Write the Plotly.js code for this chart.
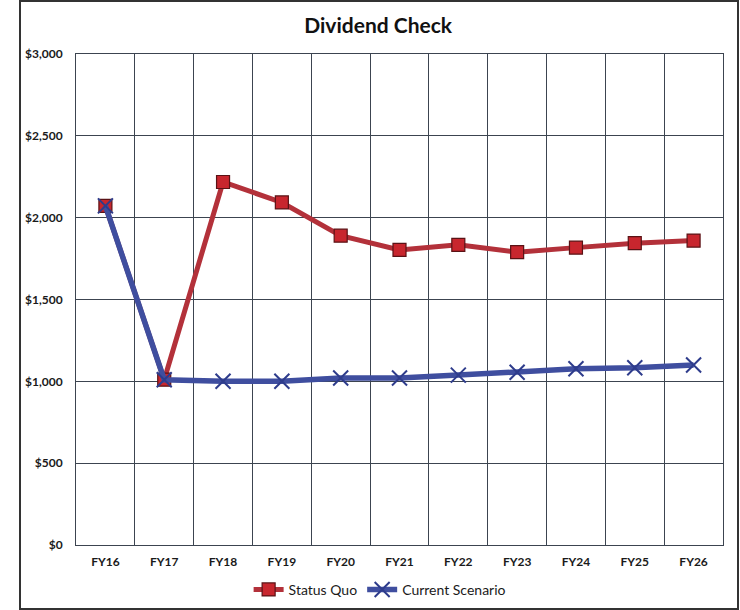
<!DOCTYPE html>
<html>
<head>
<meta charset="utf-8">
<script src="https://cdn.plot.ly/plotly-3.0.1.min.js"></script>
<style>
  html, body { margin: 0; padding: 0; background: #fff; }
  #wrap { position: relative; width: 740px; height: 610px; }
  #chart { position: absolute; left: 0; top: 0; width: 740px; height: 610px; }
  #frame { position: absolute; left: 19px; top: 0px; width: 716px; height: 606px;
           border: 2px solid #333; pointer-events: none; }
</style>
</head>
<body>
<div id="wrap">
  <div id="chart"></div>
  <div id="frame"></div>
</div>
<script>
const years = ["FY16","FY17","FY18","FY19","FY20","FY21","FY22","FY23","FY24","FY25","FY26"];
const statusQuo = [2072, 1010, 2218, 2093, 1890, 1803, 1834, 1789, 1817, 1844, 1860];
const currentScenario = [2072, 1010, 1000, 1000, 1020, 1020, 1038, 1055, 1077, 1083, 1100];
const yTickVals = [0, 500, 1000, 1500, 2000, 2500, 3000];
const yTickText = ["$0", "$500", "$1,000", "$1,500", "$2,000", "$2,500", "$3,000"];

const FONT = "Lato, 'Open Sans', 'DejaVu Sans', sans-serif";

const traces = [
  {
    x: years, y: statusQuo, name: "Status Quo", type: "scatter", mode: "lines+markers",
    line: { color: "#B3313A", width: 5 },
    marker: { symbol: "square", size: 13, color: "#C8262E", line: { color: "#5a1215", width: 1.2 } }
  },
  {
    x: years, y: currentScenario, name: "Current Scenario", type: "scatter", mode: "lines+markers",
    line: { color: "#3F4E9F", width: 5.5 },
    marker: { symbol: "x-thin", size: 15, color: "#2E3C8C", line: { color: "#2E3C8C", width: 2 } }
  }
];

const layout = {
  width: 740, height: 610,
  margin: { l: 76, r: 17, t: 54, b: 65 },
  paper_bgcolor: "#fff", plot_bgcolor: "#fff",
  font: { family: FONT, color: "#1a1a1a" },
  title: {
    text: "<b>Dividend Check</b>",
    font: { family: FONT, size: 21, color: "#111" },
    xref: "container", x: 0.511, xanchor: "center",
    yref: "container", y: 0.958, yanchor: "middle"
  },
  xaxis: {
    type: "category",
    range: [-0.5, 10.5],
    tickson: "boundaries",
    showgrid: true, gridcolor: "#3c4450", gridwidth: 1,
    showline: true, linecolor: "#3c4450", linewidth: 1, mirror: true,
    ticks: "", ticklabelstandoff: 6,
    tickfont: { family: FONT, size: 12, color: "#1a1a1a", weight: "bold" },
    fixedrange: true
  },
  yaxis: {
    range: [0, 3000],
    tickvals: yTickVals, ticktext: yTickText,
    showgrid: true, gridcolor: "#3c4450", gridwidth: 1,
    showline: true, linecolor: "#3c4450", linewidth: 1, mirror: true,
    zeroline: false,
    ticks: "", ticklabelstandoff: 10,
    tickfont: { family: FONT, size: 12, color: "#1a1a1a", weight: "bold" },
    fixedrange: true
  },
  showlegend: true,
  legend: {
    orientation: "h",
    xref: "container", x: 0.513, xanchor: "center",
    yref: "container", y: 0.033, yanchor: "middle",
    font: { family: FONT, size: 14, color: "#1a1a1a" },
    itemwidth: 30, tracegroupgap: 0,
    bgcolor: "rgba(0,0,0,0)"
  }
};

Plotly.newPlot("chart", traces, layout, { displayModeBar: false, staticPlot: true });
</script>
</body>
</html>
